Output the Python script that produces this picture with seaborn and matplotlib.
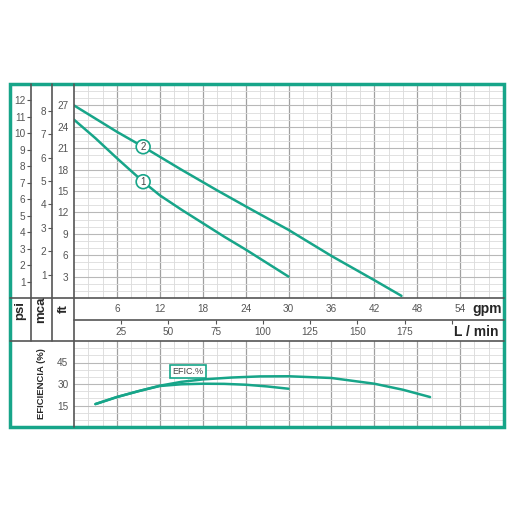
import numpy as np
import pandas as pd
import seaborn as sns
import matplotlib.pyplot as plt
from matplotlib.patches import Rectangle
from matplotlib.lines import Line2D

# pump curves (flow in gpm, head in ft)
gpm_1 = [0, 3, 6, 9.67, 12, 15, 18, 21, 24, 27, 30]
ft_1 = [25, 22.4, 19.6, 16.3, 14.4, 12.4, 10.5, 8.6, 6.8, 4.9, 3.0]
gpm_2 = [0, 6, 9.67, 15, 20, 25, 30, 36, 42, 45.8]
ft_2 = [27, 23.3, 21.2, 18.0, 15.1, 12.3, 9.55, 5.9, 2.5, 0.3]

# efficiency (%) vs gpm
eff_gpm_1 = [3, 6, 9, 12, 15, 18, 21, 24, 27, 30]
eff_1 = [16, 20.9, 25, 28.6, 29.8, 30.2, 30.1, 29.5, 28.3, 26.7]
eff_gpm_2 = [3, 6, 9, 12, 15, 18, 22, 26, 30, 36, 42, 46, 49.8]
eff_2 = [16, 20.9, 25, 28.8, 31.5, 33.2, 34.5, 35.3, 35.4, 34.2, 30.2, 26, 20.9]

gpm_ticks = [6, 12, 18, 24, 30, 36, 42, 48, 54]
lmin_ticks = [25, 50, 75, 100, 125, 150, 175, 200]
lmin_labels = ['25', '50', '75', '100', '125', '150', '175', '']
ft_ticks = [3, 6, 9, 12, 15, 18, 21, 24, 27]
psi_ticks = list(range(1, 13))
mca_ticks = list(range(1, 9))
eff_ticks = [15, 30, 45]

teal = '#17a589'
dark = '#555555'
tick_col = '#555555'
fs = 7.2

sns.set_style('white')
plt.rcParams['font.family'] = ['Liberation Sans', 'DejaVu Sans']

fig = plt.figure(figsize=(5.12, 5.12), dpi=100)
W = H = 512.0


def box(x0, y0, x1, y1):
    return [x0 / W, 1 - y1 / H, (x1 - x0) / W, (y1 - y0) / H]


def grid(ax, ymaj, ymin):
    for v in np.arange(2, 60, 2):
        major = v % 6 == 0
        ax.axvline(v, color='#a0a0a0' if major else '#d9d9d9',
                   lw=0.9 if major else 0.6, zorder=0)
    for v in ymin:
        ax.axhline(v, color='#dcdcdc', lw=0.6, zorder=0)
    for v in ymaj:
        ax.axhline(v, color='#b8b8b8', lw=0.8, zorder=0)


# main head chart
ax = fig.add_axes(box(74, 84, 503, 298))
ax.set_xlim(0, 60)
ax.set_ylim(0, 30)
grid(ax, [3 * k for k in range(1, 10)], np.arange(1, 30, 1))
sns.lineplot(x=gpm_1, y=ft_1, ax=ax, color=teal, lw=1.8, sort=False, estimator=None)
sns.lineplot(x=gpm_2, y=ft_2, ax=ax, color=teal, lw=1.8, sort=False, estimator=None)
for xx, yy, lab in [(gpm_2[2], ft_2[2], '2'), (gpm_1[3], ft_1[3], '1')]:
    ax.text(xx, yy, lab, ha='center', va='center', fontsize=7, color='#444444',
            bbox=dict(boxstyle='circle,pad=0.2', fc='white', ec=teal, lw=1.2), zorder=5)
ax.set_xticks([])
ax.set_yticks(ft_ticks)
ax.tick_params(axis='y', direction='out', length=3, width=0.8, color=tick_col,
               labelsize=fs, labelcolor=tick_col, pad=1)
for s in ax.spines.values():
    s.set_visible(False)

psi = ax.secondary_yaxis(-43 / 429, functions=(lambda f: f / 2.31, lambda p: p * 2.31))
psi.set_yticks(psi_ticks)
mca = ax.secondary_yaxis(-22 / 429, functions=(lambda f: f / 3.281, lambda m: m * 3.281))
mca.set_yticks(mca_ticks)
for sec in (psi, mca):
    sec.spines['left'].set_visible(False)
    sec.tick_params(axis='y', direction='out', length=3, width=0.8, color=tick_col,
                    labelsize=fs, labelcolor=tick_col, pad=1)

# gpm row
axg = fig.add_axes(box(74, 298, 503, 320))
axg.set_xlim(0, 60)
axg.set_ylim(0, 1)
axg.axis('off')
for v in gpm_ticks:
    axg.text(v, 0.48, str(v), ha='center', va='center', fontsize=fs, color=tick_col)
axg.text(57.8, 0.48, 'gpm', ha='center', va='center', fontsize=10, fontweight='bold')

# L/min row
axl = fig.add_axes(box(74, 320, 503, 341))
axl.set_xlim(0, 60)
axl.set_ylim(0, 1)
for s in axl.spines.values():
    s.set_visible(False)
axl.set_yticks([])
axl.xaxis.tick_top()
axl.set_xticks([v / 3.785 for v in lmin_ticks])
axl.set_xticklabels([])
axl.tick_params(axis='x', direction='in', length=3, width=0.8, color=dark)
for v, lab in zip(lmin_ticks, lmin_labels):
    axl.text(v / 3.785, 0.45, lab, ha='center', va='center', fontsize=fs, color=tick_col)
axl.text(56.3, 0.45, 'L / min', ha='center', va='center', fontsize=10, fontweight='bold')

# efficiency chart
axe = fig.add_axes(box(74, 341, 503, 427))
axe.set_xlim(0, 60)
axe.set_ylim(0, 60)
grid(axe, eff_ticks, np.arange(5, 60, 5))
sns.lineplot(x=eff_gpm_1, y=eff_1, ax=axe, color=teal, lw=1.8, sort=False, estimator=None)
sns.lineplot(x=eff_gpm_2, y=eff_2, ax=axe, color=teal, lw=1.8, sort=False, estimator=None)
axe.text(15.9, 38.8, 'EFIC.%', ha='center', va='center', fontsize=6.5, color='#444444',
         bbox=dict(boxstyle='square,pad=0.25', fc='white', ec=teal, lw=1.2), zorder=5)
axe.set_xticks([])
axe.set_yticks(eff_ticks)
axe.tick_params(axis='y', direction='out', length=3, width=0.8, color=tick_col,
                labelsize=fs, labelcolor=tick_col, pad=1)
for s in axe.spines.values():
    s.set_visible(False)

# column headers
fig.text(20 / W, 1 - 310 / H, 'psi', rotation=90, ha='center', va='center',
         fontsize=9.5, fontweight='bold')
fig.text(41 / W, 1 - 310 / H, 'mca', rotation=90, ha='center', va='center',
         fontsize=9.5, fontweight='bold')
fig.text(64 / W, 1 - 309 / H, 'ft', rotation=90, ha='center', va='center',
         fontsize=9.5, fontweight='bold')
fig.text(42 / W, 1 - 384 / H, 'EFICIENCIA (%)', rotation=90, ha='center', va='center',
         fontsize=6.8, fontweight='bold')

# frame lines
def fline(x0, y0, x1, y1, **kw):
    fig.add_artist(Line2D([x0 / W, x1 / W], [1 - y0 / H, 1 - y1 / H], **kw))

fline(31, 84, 31, 341, color=dark, lw=1.2)
fline(52, 84, 52, 341, color=dark, lw=1.2)
fline(74, 84, 74, 427, color=dark, lw=1.2)
fline(10, 298, 504, 298, color=dark, lw=1.2)
fline(74, 320, 504, 320, color=dark, lw=1.2)
fline(10, 341, 504, 341, color=dark, lw=1.2)
fig.add_artist(Rectangle((10 / W, 1 - 427 / H), 494 / W, 343 / H, fill=False,
                         ec=teal, lw=2.5, transform=fig.transFigure))

fig.savefig('out.png', dpi=100, facecolor='white')
